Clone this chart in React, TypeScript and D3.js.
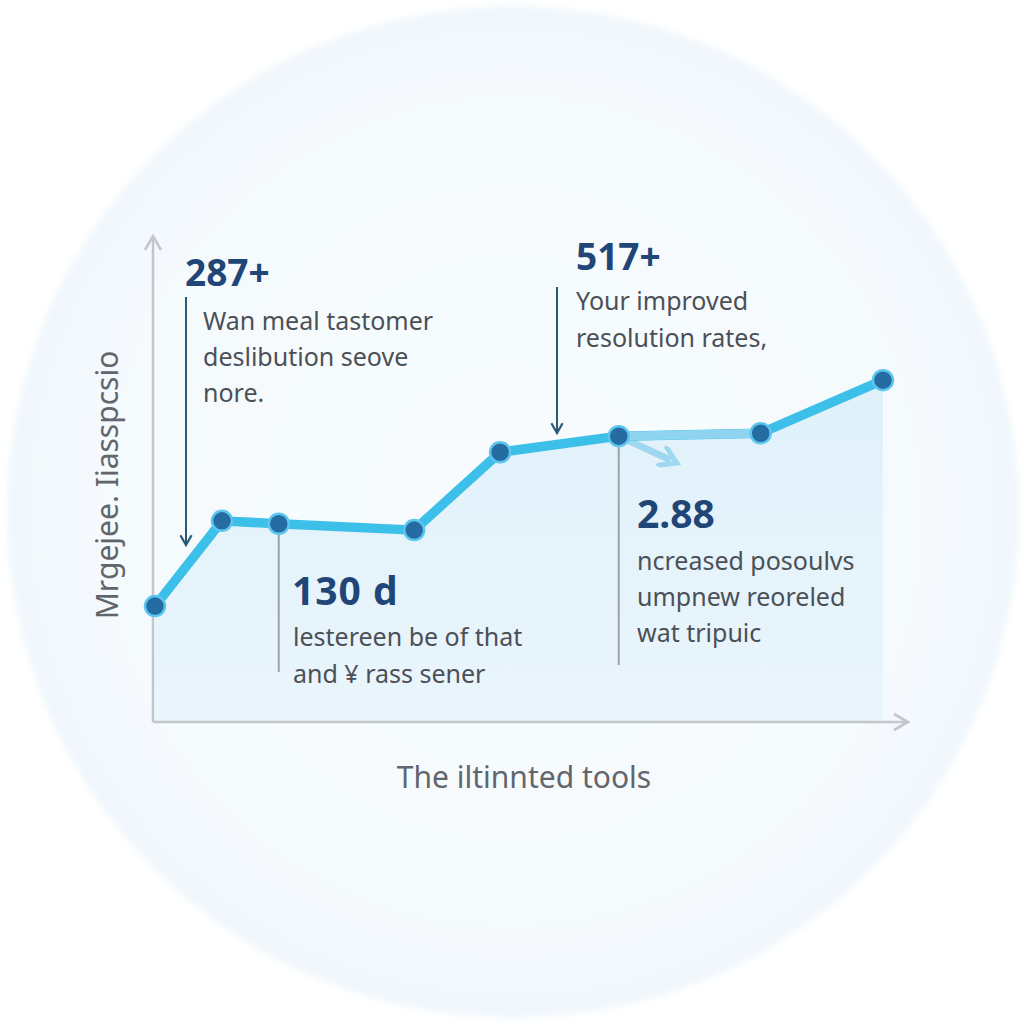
import React from "react";
import * as d3 from "d3";

const xValues = [0, 9.2, 17, 35.6, 47.4, 63.7, 83.2, 100];
const yValues = [23.8, 41.3, 40.7, 39.4, 55.4, 58.7, 59.3, 70.2];

const yAxisLabel = "Mrgejee. Iiasspcsio";
const xAxisLabel = "The iltinnted tools";

const callouts = [
  { value: "287+", lines: ["Wan meal tastomer", "deslibution seove", "nore."] },
  { value: "517+", lines: ["Your improved", "resolution rates,"] },
  { value: "130 d", lines: ["lestereen be of that", "and ¥ rass sener"] },
  { value: "2.88", lines: ["ncreased posoulvs", "umpnew reoreled", "wat tripuic"] },
];

export default function App() {
  const W = 1024, H = 1024;
  const x = d3.scaleLinear().domain([0, 100]).range([155, 883]);
  const y = d3.scaleLinear().domain([0, 100]).range([722, 235]);
  const pts = xValues.map((v, i) => [x(v), y(yValues[i])] as [number, number]);
  const line = d3.line<[number, number]>().x(d => d[0]).y(d => d[1]);
  const area = d3.area<[number, number]>().x(d => d[0]).y0(y(0)).y1(d => d[1]);
  const font = "'Noto Sans', 'Open Sans', sans-serif";
  const axisColor = "#c3c7cc";
  const textColor = "#4b5057";
  const valueColor = "#1f4677";

  return (
    <svg width={W} height={H} style={{ position: "absolute", left: 0, top: 0 }}>
      <defs>
        <radialGradient id="bg" cx="50%" cy="50%" r="50%">
          <stop offset="0%" stopColor="#f8fcfe" />
          <stop offset="93%" stopColor="#f4f9fd" />
          <stop offset="100%" stopColor="#f0f7fc" />
        </radialGradient>
        <filter id="soft" x="-10%" y="-10%" width="120%" height="120%">
          <feGaussianBlur stdDeviation="3" />
        </filter>
        <linearGradient id="areaG" x1="0" y1="0" x2="0" y2="1">
          <stop offset="0%" stopColor="#e0f1fa" />
          <stop offset="100%" stopColor="#eaf5fc" />
        </linearGradient>
        <marker id="arrDark" viewBox="0 0 10 10" refX="8" refY="5" markerWidth="7" markerHeight="7" orient="auto-start-reverse">
          <path d="M1,1 L8,5 L1,9" fill="none" stroke="#2a5a78" strokeWidth="1.6" />
        </marker>
        <marker id="arrGray" viewBox="0 0 10 10" refX="8" refY="5" markerWidth="8" markerHeight="8" orient="auto-start-reverse">
          <path d="M1,1 L8,5 L1,9" fill="none" stroke={axisColor} strokeWidth="1.3" />
        </marker>
        <marker id="arrLight" viewBox="0 0 10 10" refX="5" refY="5" markerWidth="3.2" markerHeight="3.2" orient="auto">
          <path d="M0,0 L8,5 L0,10" fill="none" stroke="#9dd8f0" strokeWidth="2.2" />
        </marker>
      </defs>
      <rect width={W} height={H} fill="#ffffff" />
      <circle cx={513} cy={512} r={506} fill="url(#bg)" filter="url(#soft)" />

      {/* area */}
      <path d={area(pts) || ""} fill="url(#areaG)" />

      {/* axes */}
      <line x1={153} y1={y(0)} x2={153} y2={236} stroke={axisColor} strokeWidth={2.5} markerEnd="url(#arrGray)" />
      <line x1={153} y1={y(0)} x2={908} y2={y(0)} stroke={axisColor} strokeWidth={2.5} markerEnd="url(#arrGray)" />

      {/* light arrow from point 6 */}
      <line x1={pts[5][0]} y1={pts[5][1]} x2={pts[5][0] + 52} y2={pts[5][1] + 24} stroke="#9dd8f0" strokeWidth={7} markerEnd="url(#arrLight)" />

      {/* main line */}
      <path d={line(pts) || ""} fill="none" stroke="#3cbfe8" strokeWidth={9.5} strokeLinejoin="round" strokeLinecap="round" />
      <path d={line([pts[5], pts[6]]) || ""} fill="none" stroke="#8ed4f1" strokeWidth={9} />

      {/* callout leader lines */}
      <line x1={186} y1={297} x2={186} y2={545} stroke="#2a5a78" strokeWidth={2} markerEnd="url(#arrDark)" />
      <line x1={557} y1={287} x2={557} y2={433} stroke="#2a5a78" strokeWidth={2} markerEnd="url(#arrDark)" />
      <line x1={pts[2][0]} y1={pts[2][1]} x2={pts[2][0]} y2={672} stroke="#9aa3ab" strokeWidth={2} />
      <line x1={pts[5][0]} y1={pts[5][1]} x2={pts[5][0]} y2={665} stroke="#9aa3ab" strokeWidth={2} />

      {/* points */}
      {pts.map((p, i) => (
        <circle key={i} cx={p[0]} cy={p[1]} r={10} fill="#246ca2" stroke="#5cc6ee" strokeWidth={2.5} />
      ))}

      {/* callouts */}
      <g fontFamily={font}>
        <text x={185} y={286} fontSize={37} fontWeight={700} fill={valueColor}>{callouts[0].value}</text>
        {callouts[0].lines.map((l, i) => (
          <text key={i} x={203} y={330 + i * 36} fontSize={25} fill={textColor}>{l}</text>
        ))}
        <text x={576} y={270} fontSize={37} fontWeight={700} fill={valueColor}>{callouts[1].value}</text>
        {callouts[1].lines.map((l, i) => (
          <text key={i} x={576} y={310 + i * 37} fontSize={25} fill={textColor}>{l}</text>
        ))}
        <text x={292} y={605} fontSize={39} fontWeight={700} fill={valueColor} letterSpacing={1}>{callouts[2].value}</text>
        {callouts[2].lines.map((l, i) => (
          <text key={i} x={293} y={646 + i * 37} fontSize={25} fill={textColor}>{l}</text>
        ))}
        <text x={637} y={528} fontSize={39} fontWeight={700} fill={valueColor}>{callouts[3].value}</text>
        {callouts[3].lines.map((l, i) => (
          <text key={i} x={637} y={570 + i * 36} fontSize={25} fill={textColor}>{l}</text>
        ))}

        <text transform="translate(118,485) rotate(-90)" textAnchor="middle" fontSize={30} fill="#62666c">{yAxisLabel}</text>
        <text x={524} y={788} textAnchor="middle" fontSize={30} fill="#62666c">{xAxisLabel}</text>
      </g>
    </svg>
  );
}
